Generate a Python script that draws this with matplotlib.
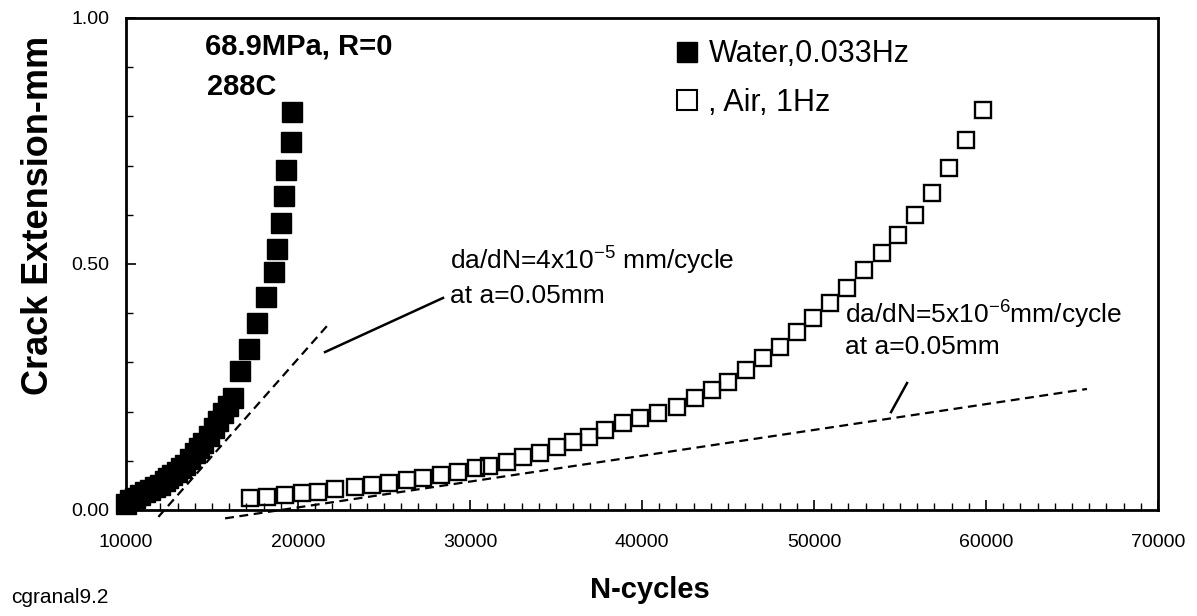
import matplotlib
matplotlib.use("Agg")
import matplotlib.pyplot as plt
from matplotlib.ticker import FixedLocator, MultipleLocator, FormatStrFormatter
from matplotlib.lines import Line2D

plt.rcParams["font.family"] = ["Liberation Sans", "DejaVu Sans"]
plt.rcParams["mathtext.fontset"] = "custom"
plt.rcParams["mathtext.rm"] = "Liberation Sans"
plt.rcParams["mathtext.default"] = "regular"

# data
water_n = [10000, 10230, 10500, 10810, 11100, 11400, 11700, 11980, 12250, 12460,
           12700, 12950, 13200, 13430, 13720, 14010, 14250, 14500, 14800, 15100,
           15350, 15620, 15900, 16200, 16630, 17150, 17600, 18160, 18590, 18800,
           19030, 19190, 19300, 19570, 19670]
water_a = [0.013, 0.020, 0.025, 0.030, 0.036, 0.041, 0.046, 0.051, 0.058, 0.065,
           0.071, 0.078, 0.085, 0.092, 0.103, 0.115, 0.125, 0.136, 0.150, 0.166,
           0.180, 0.197, 0.212, 0.228, 0.283, 0.328, 0.381, 0.432, 0.484, 0.531,
           0.583, 0.639, 0.692, 0.748, 0.808]

air_n = [17200, 18180, 19250, 20210, 21180, 22150, 23310, 24320, 25300, 26310,
         27280, 28290, 29280, 30340, 31120, 32130, 33100, 34070, 35040, 36000,
         36900, 37850, 38910, 39880, 40950, 42020, 43080, 44050, 45020, 46050,
         47050, 48020, 49000, 49960, 50930, 51900, 52900, 53940, 54900, 55870,
         56840, 57850, 58820, 59810]
air_a = [0.024, 0.026, 0.030, 0.034, 0.037, 0.042, 0.046, 0.051, 0.054, 0.060,
         0.066, 0.071, 0.078, 0.085, 0.089, 0.098, 0.107, 0.116, 0.129, 0.139,
         0.149, 0.163, 0.176, 0.186, 0.197, 0.210, 0.227, 0.244, 0.261, 0.285,
         0.308, 0.332, 0.362, 0.390, 0.420, 0.451, 0.487, 0.522, 0.559, 0.600,
         0.644, 0.695, 0.752, 0.812]

# tangent lines (da/dN at a=0.05mm)
tan_water_n = [11880, 21760]
tan_water_a = [-0.014, 0.377]
tan_air_n = [15760, 65870]
tan_air_a = [-0.017, 0.246]

x_ticks = [10000, 20000, 30000, 40000, 50000, 60000, 70000]
y_ticks = [0.0, 0.5, 1.0]

fig = plt.figure(figsize=(11.97, 6.16), dpi=100)
ax = fig.add_axes([0.1053, 0.1721, 0.8621, 0.7987])

ax.plot(tan_water_n, tan_water_a, "k--", lw=1.6, dashes=(4, 2.5), clip_on=False)
ax.plot(tan_air_n, tan_air_a, "k--", lw=1.6, dashes=(4, 2.5), clip_on=False)

ax.plot(water_n, water_a, ls="none", marker="s", ms=14, mfc="black", mec="black",
        mew=1, clip_on=False, zorder=3)
ax.plot(air_n, air_a, ls="none", marker="s", ms=11, mfc="none", mec="black",
        mew=1.7, clip_on=False, zorder=3)

ax.set_xlim(10000, 70000)
ax.set_ylim(0, 1)
ax.xaxis.set_major_locator(FixedLocator(x_ticks))
ax.xaxis.set_minor_locator(MultipleLocator(1000))
ax.yaxis.set_major_locator(FixedLocator(y_ticks))
ax.yaxis.set_minor_locator(MultipleLocator(0.1))
ax.yaxis.set_major_formatter(FormatStrFormatter("%.2f"))
ax.tick_params(which="both", direction="in", top=False, right=False)
ax.tick_params(which="major", length=7, width=1.2, labelsize=14)
ax.tick_params(which="minor", length=5, width=1.0)
ax.tick_params(axis="x", which="major", pad=17)
ax.tick_params(axis="y", which="major", pad=12)
for sp in ax.spines.values():
    sp.set_linewidth(2)

fig.text(0.032, 0.65, "Crack Extension-mm", fontsize=26, fontweight="bold",
         rotation=90, ha="center", va="center")
fig.text(0.543, 0.042, "N-cycles", fontsize=21, fontweight="bold",
         ha="center", va="center")
fig.text(0.009, 0.03, "cgranal9.2", fontsize=15, ha="left", va="center")

ax.text(14590, 0.943, "68.9MPa, R=0", fontsize=21, fontweight="bold", va="center")
ax.text(14710, 0.860, "288C", fontsize=21, fontweight="bold", va="center")

# legend
handles = [Line2D([], [], ls="none", marker="s", ms=14, mfc="black", mec="black"),
           Line2D([], [], ls="none", marker="s", ms=15, mfc="none", mec="black", mew=1.5)]
ax.legend(handles, ["Water,0.033Hz", ", Air, 1Hz"], loc="upper left",
          bbox_to_anchor=(0.511, 1.0), frameon=False, fontsize=22,
          handlelength=0.8, handletextpad=0.3, labelspacing=0.6, borderaxespad=0.3)

ax.text(28840, 0.506, "da/dN=4x10$^{-5}$ mm/cycle", fontsize=19, va="center")
ax.text(28840, 0.435, "at a=0.05mm", fontsize=19, va="center")
ax.plot([28430, 21570], [0.431, 0.321], color="black", lw=1.8)

ax.text(51800, 0.396, "da/dN=5x10$^{-6}$mm/cycle", fontsize=19, va="center")
ax.text(51800, 0.331, "at a=0.05mm", fontsize=19, va="center")
ax.plot([55410, 54480], [0.258, 0.199], color="black", lw=1.8)

fig.savefig("out.png", dpi=100)
